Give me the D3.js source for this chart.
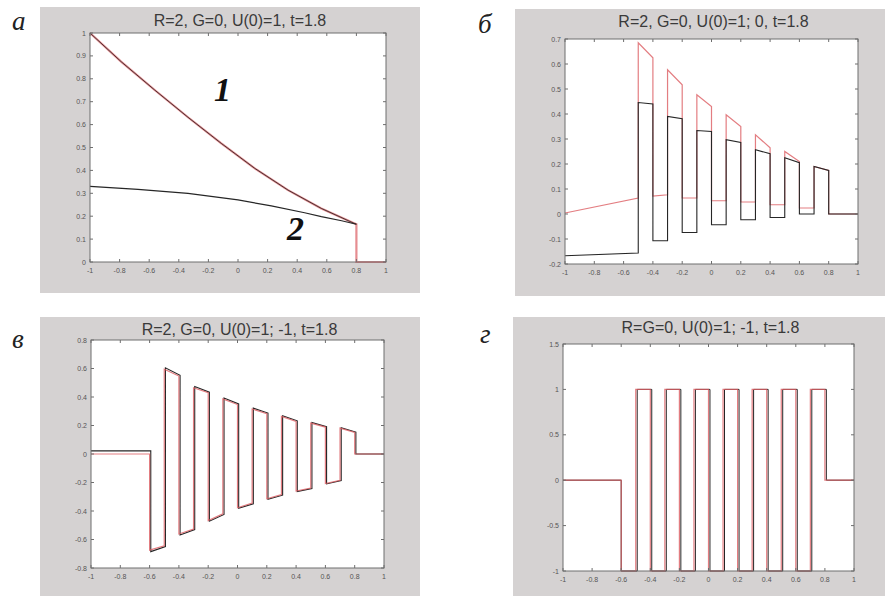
<!DOCTYPE html>
<html><head><meta charset="utf-8">
<script src="https://cdn.jsdelivr.net/npm/d3@7"></script>
<style>body{margin:0;background:#fff}svg{display:block}</style>
</head><body>
<script>
// ---------------- DATA ----------------
const xTicks = [-1,-0.8,-0.6,-0.4,-0.2,0,0.2,0.4,0.6,0.8,1];
const xTickLabels = ["-1","-0.8","-0.6","-0.4","-0.2","0","0.2","0.4","0.6","0.8","1"];

const titles = ["R=2, G=0, U(0)=1, t=1.8","R=2, G=0, U(0)=1; 0, t=1.8","R=2, G=0, U(0)=1; -1, t=1.8","R=G=0, U(0)=1; -1, t=1.8"];
const panelLetters = ["а","б","в","г"];

// panel а
const aYTicks = [0,0.1,0.2,0.3,0.4,0.5,0.6,0.7,0.8,0.9,1];
const aYTickLabels = ["0","0.1","0.2","0.3","0.4","0.5","0.6","0.7","0.8","0.9","1"];
const aCurve1 = [[-1,1],[-0.79,0.875],[-0.563,0.751],[-0.338,0.632],[-0.113,0.518],[0.113,0.409],[0.338,0.314],[0.563,0.234],[0.777,0.171],[0.8,0.165],[0.8,0],[1,0]];
const aCurve2 = [[-1,0.33],[-0.676,0.317],[-0.338,0.3],[0,0.271],[0.225,0.245],[0.45,0.215],[0.563,0.198],[0.7,0.18],[0.8,0.165]];
const aCurveLabels = ["1","2"];

// panel б
const bYTicks = [-0.2,-0.1,0,0.1,0.2,0.3,0.4,0.5,0.6,0.7];
const bYTickLabels = ["-0.2","-0.1","0","0.1","0.2","0.3","0.4","0.5","0.6","0.7"];
const bEdges = [-1,-0.5,-0.4,-0.3,-0.2,-0.1,0,0.1,0.2,0.3,0.4,0.5,0.6,0.7,0.8,1];
const bRedStart = [0.004,0.685,0.072,0.577,0.064,0.477,0.053,0.397,0.048,0.317,0.037,0.25,0.024,0.19,0];
const bRedEnd   = [0.064,0.625,0.077,0.517,0.064,0.43,0.053,0.35,0.048,0.265,0.037,0.21,0.024,0.174,0];
const bBlackStart = [-0.167,0.446,-0.107,0.39,-0.074,0.334,-0.043,0.297,-0.023,0.257,-0.014,0.225,0.0,0.19,0];
const bBlackEnd   = [-0.156,0.44,-0.107,0.381,-0.074,0.33,-0.043,0.286,-0.023,0.241,-0.014,0.205,0.0,0.174,0];

// panel в
const vYTicks = [-0.8,-0.6,-0.4,-0.2,0,0.2,0.4,0.6,0.8];
const vYTickLabels = ["-0.8","-0.6","-0.4","-0.2","0","0.2","0.4","0.6","0.8"];
const vEdgesRed = [-1,-0.6,-0.5,-0.4,-0.3,-0.2,-0.1,0,0.1,0.2,0.3,0.4,0.5,0.6,0.7,0.8,1];
const vEdgesBlack = [-1,-0.592,-0.492,-0.392,-0.292,-0.192,-0.092,0.008,0.108,0.208,0.308,0.408,0.508,0.608,0.708,0.808,1];
const vRedStart = [0.0,-0.675,0.595,-0.561,0.465,-0.467,0.387,-0.377,0.316,-0.314,0.264,-0.26,0.217,-0.207,0.182,0];
const vRedEnd   = [0.0,-0.644,0.547,-0.526,0.43,-0.42,0.347,-0.345,0.283,-0.285,0.229,-0.239,0.189,-0.184,0.151,0];
const vBlackStart = [0.022,-0.685,0.605,-0.568,0.473,-0.472,0.393,-0.381,0.322,-0.318,0.268,-0.263,0.221,-0.21,0.185,0];
const vBlackEnd   = [0.022,-0.65,0.552,-0.53,0.434,-0.424,0.351,-0.349,0.287,-0.289,0.233,-0.242,0.192,-0.187,0.154,0];

// panel г
const gYTicks = [-1,-0.5,0,0.5,1,1.5];
const gYTickLabels = ["-1","-0.5","0","0.5","1","1.5"];
const gEdgesRed = [-1,-0.6,-0.5,-0.4,-0.3,-0.2,-0.1,0,0.1,0.2,0.3,0.4,0.5,0.6,0.7,0.8,1];
const gEdgesBlack = [-1,-0.6,-0.49,-0.39,-0.29,-0.19,-0.09,0.01,0.11,0.21,0.31,0.41,0.51,0.61,0.71,0.81,1];
const gLevels = [0,-1,1,-1,1,-1,1,-1,1,-1,1,-1,1,-1,1,0];

// ---------------- DRAW ----------------
function steps(edges, s, e){
  const pts=[];
  for(let i=0;i<s.length;i++){ pts.push([edges[i],s[i]]); pts.push([edges[i+1],e[i]]); }
  return pts;
}

const svg = d3.select("body").append("svg").attr("width",885).attr("height",596);
const defs = svg.append("defs");

const panels = [
  {bg:[40,7,380,286], plot:[90,33,296,229], yDom:[0,1], yT:aYTicks, yL:aYTickLabels, tY:26, letter:[12,30]},
  {bg:[515,9,370,287], plot:[565,39,293,225], yDom:[-0.2,0.7], yT:bYTicks, yL:bYTickLabels, tY:27, letter:[478,33]},
  {bg:[40,317,380,279], plot:[91,340,293,228], yDom:[-0.8,0.8], yT:vYTicks, yL:vYTickLabels, tY:335, letter:[12,348]},
  {bg:[513,317,372,279], plot:[563,344,291,227], yDom:[-1,1.5], yT:gYTicks, yL:gYTickLabels, tY:333, letter:[480,343]}
];

const RED="#dc5c62", BLACK="#262626";

panels.forEach((p,i)=>{
  const g = svg.append("g");
  g.append("rect").attr("x",p.bg[0]).attr("y",p.bg[1]).attr("width",p.bg[2]).attr("height",p.bg[3]).attr("fill","#d5d2d2");
  const [px,py,pw,ph]=p.plot;
  const x = d3.scaleLinear().domain([-1,1]).range([px,px+pw]);
  const y = d3.scaleLinear().domain(p.yDom).range([py+ph,py]);
  g.append("rect").attr("x",px).attr("y",py).attr("width",pw).attr("height",ph).attr("fill","#fff");
  defs.append("clipPath").attr("id","c"+i).append("rect").attr("x",px-1).attr("y",py-1).attr("width",pw+2).attr("height",ph+2);
  const lg = g.append("g").attr("clip-path","url(#c"+i+")");
  const line = d3.line().x(d=>x(d[0])).y(d=>y(d[1]));

  if(i===0){
    lg.append("path").attr("d",line(aCurve1)).attr("fill","none").attr("stroke",RED).attr("stroke-width",2.2).attr("stroke-opacity",0.7);
    lg.append("path").attr("d",line(aCurve1.slice(0,10))).attr("fill","none").attr("stroke","#2e2424").attr("stroke-width",1).attr("stroke-opacity",0.85);
    lg.append("path").attr("d",line(aCurve2)).attr("fill","none").attr("stroke",BLACK).attr("stroke-width",1.2);
  } else if(i===1){
    lg.append("path").attr("d",line(steps(bEdges,bRedStart,bRedEnd))).attr("fill","none").attr("stroke",RED).attr("stroke-width",1.2).attr("stroke-opacity",0.8);
    lg.append("path").attr("d",line(steps(bEdges,bBlackStart,bBlackEnd))).attr("fill","none").attr("stroke",BLACK).attr("stroke-width",1.1);
  } else if(i===2){
    lg.append("path").attr("d",line(steps(vEdgesBlack,vBlackStart,vBlackEnd))).attr("fill","none").attr("stroke",BLACK).attr("stroke-width",1.1);
    lg.append("path").attr("d",line(steps(vEdgesRed,vRedStart,vRedEnd))).attr("fill","none").attr("stroke",RED).attr("stroke-width",1.2).attr("stroke-opacity",0.8);
  } else {
    lg.append("path").attr("d",line(steps(gEdgesBlack,gLevels,gLevels))).attr("fill","none").attr("stroke",BLACK).attr("stroke-width",1);
    lg.append("path").attr("d",line(steps(gEdgesRed,gLevels,gLevels))).attr("fill","none").attr("stroke",RED).attr("stroke-width",1.2).attr("stroke-opacity",0.8);
  }

  // box
  g.append("rect").attr("x",px).attr("y",py).attr("width",pw).attr("height",ph).attr("fill","none").attr("stroke","#6e6e6e").attr("stroke-width",1);
  // ticks (inner, all sides)
  const tk = g.append("g").attr("stroke","#6e6e6e").attr("stroke-width",1);
  xTicks.forEach(v=>{
    tk.append("line").attr("x1",x(v)).attr("x2",x(v)).attr("y1",py+ph).attr("y2",py+ph-3);
    tk.append("line").attr("x1",x(v)).attr("x2",x(v)).attr("y1",py).attr("y2",py+3);
  });
  p.yT.forEach(v=>{
    tk.append("line").attr("x1",px).attr("x2",px+3).attr("y1",y(v)).attr("y2",y(v));
    tk.append("line").attr("x1",px+pw).attr("x2",px+pw-3).attr("y1",y(v)).attr("y2",y(v));
  });
  // tick labels
  const tl = g.append("g").attr("font-family","Liberation Sans, Arial, sans-serif").attr("font-size",7).attr("fill","#555");
  xTicks.forEach((v,k)=>{
    tl.append("text").attr("x",x(v)).attr("y",py+ph+11).attr("text-anchor","middle").text(xTickLabels[k]);
  });
  p.yT.forEach((v,k)=>{
    tl.append("text").attr("x",px-4).attr("y",y(v)+2.5).attr("text-anchor","end").text(p.yL[k]);
  });
  // title
  g.append("text").attr("x",px+pw/2+2).attr("y",p.tY).attr("text-anchor","middle")
    .attr("font-family","Liberation Sans, Arial, sans-serif").attr("font-size",16).attr("fill","#3a3a3a").text(titles[i]);
  // panel letter
  svg.append("text").attr("x",p.letter[0]).attr("y",p.letter[1]).attr("font-family","Liberation Serif, Times New Roman, serif")
    .attr("font-style","italic").attr("font-size",27).attr("fill","#222").text(panelLetters[i]);
  if(i===0){
    g.append("text").attr("x",214).attr("y",101).attr("font-family","Liberation Serif, serif").attr("font-style","italic").attr("font-weight","bold").attr("font-size",34).attr("fill","#111").text(aCurveLabels[0]);
    g.append("text").attr("x",287).attr("y",240).attr("font-family","Liberation Serif, serif").attr("font-style","italic").attr("font-weight","bold").attr("font-size",34).attr("fill","#111").text(aCurveLabels[1]);
  }
});
</script>
</body></html>
